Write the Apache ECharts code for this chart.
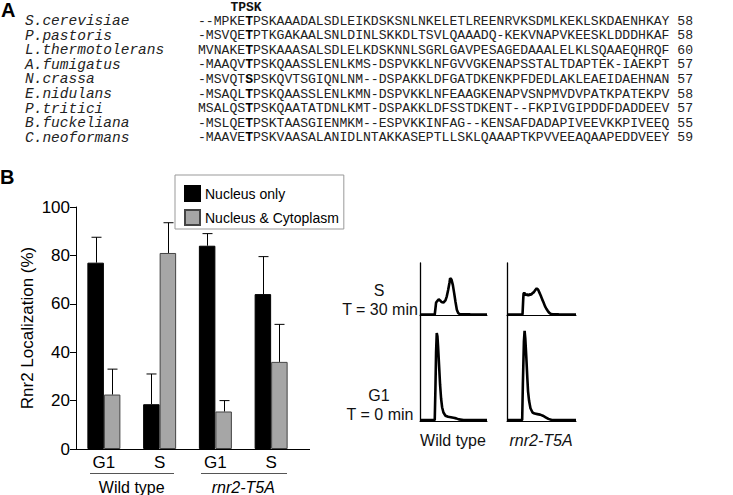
<!DOCTYPE html>
<html><head><meta charset="utf-8">
<script src="https://cdn.jsdelivr.net/npm/echarts@6/dist/echarts.min.js"></script>
<style>html,body{margin:0;padding:0;background:#fff}#c{width:733px;height:495px}</style>
</head><body><div id="c"></div>
<script>
// ---------- Panel A: alignment ----------
const species = ['S.cerevisiae','P.pastoris','L.thermotolerans','A.fumigatus','N.crassa','E.nidulans','P.tritici','B.fuckeliana','C.neoformans'];
const sequences = [
  '--MPKETPSKAAADALSDLEIKDSKSNLNKELETLREENRVKSDMLKEKLSKDAENHKAY',
  '-MSVQETPTKGAKAALSNLDINLSKKDLTSVLQAAADQ-KEKVNAPVKEESKLDDDHKAF',
  'MVNAKETPSKAAASALSDLELKDSKNNLSGRLGAVPESAGEDAAALELKLSQAAEQHRQF',
  '-MAAQVTPSKQAASSLENLKMS-DSPVKKLNFGVVGKENAPSSTALTDAPTEK-IAEKPT',
  '-MSVQTSPSKQVTSGIQNLNM--DSPAKKLDFGATDKENKPFDEDLAKLEAEIDAEHNAN',
  '-MSAQLTPSKQAASSLENLKMN-DSPVKKLNFEAAGKENAPVSNPMVDVPATKPATEKPV',
  'MSALQSTPSKQAATATDNLKMT-DSPAKKLDFSSTDKENT--FKPIVGIPDDFDADDEEV',
  '-MSLQETPSKTAASGIENMKM--ESPVKKINFAG--KENSAFDADAPIVEEVKKPIVEEQ',
  '-MAAVETPSKVAASALANIDLNTAKKASEPTLLSKLQAAAPTKPVVEEAQAAPEDDVEEY'
];
const seqLengths = [58,58,60,57,57,58,57,55,59];
const motif = 'TPSK';
const siteIndex = 6;

// ---------- Panel B: localization bars ----------
const categories = ['G1','S','G1','S'];
const groups = ['Wild type','rnr2-T5A'];
const seriesNames = ['Nucleus only','Nucleus & Cytoplasm'];
const nucleusOnly = [77, 18.5, 84, 64];
const nucleusOnlyErr = [10.5, 12.5, 5, 15.5];
const nucleusCyto = [22.5, 81, 15.5, 36];
const nucleusCytoErr = [10.5, 12.5, 4.5, 15.5];
const yTicks = [0, 20, 40, 60, 80, 100];

// ---------- Panel B: flow cytometry histograms ([DNA content, counts]) ----------
const wtS = [[0,0.8],[10,0.8],[20,0.8],[22,1],[23,12],[24,24],[26,27],[28,30],[30,28],[32,25],[35,24],[38,28],[40,36],[42,48],[44,62],[45,71],[47,68],[49,58],[51,42],[53,25],[55,10],[57,4],[59,2],[65,1.5],[75,1.2],[85,1],[100,1]];
const wtG1 = [[0,0.8],[20,0.8],[22,1],[23,30],[24,65],[25,83],[26,80],[27,70],[28.5,52],[30,34],[31.5,21],[33,13],[35,8],[38,5],[42,4],[46,3.5],[50,3],[54,2.5],[58,1.5],[65,1],[100,0.8]];
const t5aS = [[0,0.8],[20,0.8],[22.5,1],[23.5,30],[24,41],[25,43],[27,38],[29,40],[31,37],[33,40],[35,39],[37,42],[39,44],[41,48],[43,51],[45,49],[47,43],[49,37],[51,30],[53,24],[55,17],[57,12],[59,8],[61,4.5],[63,2.5],[66,1.5],[75,1.2],[100,1]];
const t5aG1 = [[0,0.8],[20,0.8],[22,1],[23,35],[24.5,75],[25.5,85],[26.5,78],[28,60],[29.5,40],[30.5,28],[32,19],[34,12],[37,8],[40,7],[44,6.5],[48,6],[52,5],[56,3.5],[60,2],[65,1],[100,0.8]];
const histRows = [['S','T = 30 min'],['G1','T = 0 min']];

const SANS = '"Liberation Sans", Arial, sans-serif';
const MONO = '"Liberation Mono", "Courier New", monospace';
const chart = echarts.init(document.getElementById('c'), null, {renderer:'svg', width:733, height:495});

const graphics = [];
graphics.push({type:'text', x:1, y:0, style:{text:'A', font:'bold 20px '+SANS, fill:'#000'}});
graphics.push({type:'text', x:246, y:1, style:{text:motif, font:'bold 13px '+MONO, lineHeight:12, fill:'#111', align:'center', verticalAlign:'top'}});
species.forEach((sp,i)=>{
  const y = 21 + i*14.6;
  graphics.push({type:'text', x:25, y:y, style:{text:sp, font:'italic 14.5px '+MONO, lineHeight:13, fill:'#222', verticalAlign:'middle'}});
  const s = sequences[i];
  graphics.push({type:'text', x:198, y:y, style:{
    text:'{n|'+s.slice(0,siteIndex)+'}{b|'+s[siteIndex]+'}{n|'+s.slice(siteIndex+1)+' '+seqLengths[i]+'}',
    verticalAlign:'middle',
    rich:{
      n:{fontSize:13.1, fontFamily:MONO, lineHeight:13, fill:'#222'},
      b:{fontSize:13.1, fontFamily:MONO, lineHeight:13, fontWeight:'bold', fill:'#000'}
    }}});
});
graphics.push({type:'text', x:0, y:167, style:{text:'B', font:'bold 20px '+SANS, fill:'#000'}});
// axis extension and group underlines
graphics.push({type:'line', shape:{x1:299, y1:449.5, x2:310, y2:449.5}, style:{stroke:'#000', lineWidth:1}});
graphics.push({type:'line', shape:{x1:90, y1:473.5, x2:174, y2:473.5}, style:{stroke:'#555', lineWidth:1}});
graphics.push({type:'line', shape:{x1:201, y1:473.5, x2:287, y2:473.5}, style:{stroke:'#555', lineWidth:1}});
// histogram labels
histRows.forEach((r,i)=>{
  const yc = i===0 ? 290 : 395;
  graphics.push({type:'text', x:379, y:yc, style:{text:r[0], font:'16px '+SANS, fill:'#111', align:'center', verticalAlign:'middle'}});
  graphics.push({type:'text', x:380, y:yc+19, style:{text:r[1], font:'16px '+SANS, fill:'#111', align:'center', verticalAlign:'middle'}});
});
graphics.push({type:'text', x:453, y:440, style:{text:groups[0], font:'16px '+SANS, fill:'#111', align:'center', verticalAlign:'middle'}});
graphics.push({type:'text', x:541, y:440, style:{text:groups[1], font:'italic 16px '+SANS, fill:'#111', align:'center', verticalAlign:'middle'}});

const BW = 16.5;
function errSeries(vals, errs, side){
  return {
    type:'custom', xAxisIndex:0, yAxisIndex:0, silent:true, z:3,
    data: vals.map((v,i)=>[i, v, errs[i]]),
    encode:{x:0, y:1},
    renderItem:(params, api)=>{
      const c = api.value(0), v = api.value(1), e = api.value(2);
      const p0 = api.coord([c, v]); const p1 = api.coord([c, v+e]);
      const x = Math.round(p0[0] + side*BW/2) + 0.5;
      return {type:'group', children:[
        {type:'line', shape:{x1:x, y1:p0[1], x2:x, y2:p1[1]}, style:{stroke:'#000', lineWidth:1}},
        {type:'line', shape:{x1:x-5, y1:p1[1], x2:x+5, y2:p1[1]}, style:{stroke:'#000', lineWidth:1}}
      ]};
    }
  };
}

const histGrids = [
  {left:420, top:263, width:67, height:52},
  {left:420, top:315, width:67, height:106},
  {left:507, top:263, width:69, height:52},
  {left:507, top:315, width:69, height:106}
];
const histData = [wtS, wtG1, t5aS, t5aG1];

const option = {
  animation:false,
  backgroundColor:'#fff',
  graphic: graphics,
  legend:{
    orient:'vertical', left:175, top:175, padding:[10,5,3,9], itemGap:7,
    itemWidth:15, itemHeight:15, icon:'rect',
    borderColor:'#999', borderWidth:1,
    textStyle:{fontSize:14, fontFamily:SANS, color:'#000', lineHeight:15},
    data:seriesNames
  },
  grid:[{left:76, top:207, width:223, height:242.5}].concat(histGrids),
  xAxis:[
    {type:'category', gridIndex:0, data:categories,
     axisLine:{lineStyle:{color:'#000', width:1}}, axisTick:{show:false},
     axisLabel:{color:'#000', fontSize:17, fontFamily:SANS, margin:5}},
    {type:'category', gridIndex:0, data:groups, position:'bottom', offset:22,
     axisLine:{show:false}, axisTick:{show:false},
     axisLabel:{fontSize:16, fontFamily:SANS, margin:8, color:'#000',
       formatter:(v)=> v===groups[1] ? '{i|'+v+'}' : v,
       rich:{i:{fontStyle:'italic', fontSize:16, fontFamily:SANS, color:'#000'}}}}
  ].concat(histGrids.map((g,k)=>({
    type:'value', gridIndex:k+1, min:0, max:100,
    axisLine:{show:true, onZero:false, lineStyle:{color:'#000', width:1}},
    axisTick:{show:false}, axisLabel:{show:false}, splitLine:{show:false}
  }))),
  yAxis:[
    {type:'value', gridIndex:0, min:0, max:100, interval:20,
     name:'Rnr2 Localization (%)', nameLocation:'middle', nameGap:40,
     nameTextStyle:{fontSize:17, fontFamily:SANS, color:'#000'},
     axisLine:{show:true, lineStyle:{color:'#000', width:1}},
     axisTick:{show:true, length:6, lineStyle:{color:'#000'}},
     axisLabel:{color:'#000', fontSize:17, fontFamily:SANS, margin:6},
     splitLine:{show:false}}
  ].concat(histGrids.map((g,k)=>({
    type:'value', gridIndex:k+1, min:0, max:100,
    axisLine:{show:true, lineStyle:{color:'#000', width:1.3}},
    axisTick:{show:false}, axisLabel:{show:false}, splitLine:{show:false}
  }))),
  series:[
    {name:seriesNames[0], type:'bar', xAxisIndex:0, yAxisIndex:0, data:nucleusOnly, barWidth:BW, barGap:'0%',
     itemStyle:{color:'#000', borderColor:'#000', borderWidth:1}},
    {name:seriesNames[1], type:'bar', xAxisIndex:0, yAxisIndex:0, data:nucleusCyto, barWidth:BW, barGap:'0%',
     itemStyle:{color:'#a6a6a6', borderColor:'#444', borderWidth:1}},
    errSeries(nucleusOnly, nucleusOnlyErr, -1),
    errSeries(nucleusCyto, nucleusCytoErr, 1)
  ].concat(histData.map((d,k)=>({
    type:'line', xAxisIndex:k+2, yAxisIndex:k+1, data:d, symbol:'none', silent:true,
    lineStyle:{color:'#000', width:2.6}
  })))
};
chart.setOption(option);
</script>
</body></html>
